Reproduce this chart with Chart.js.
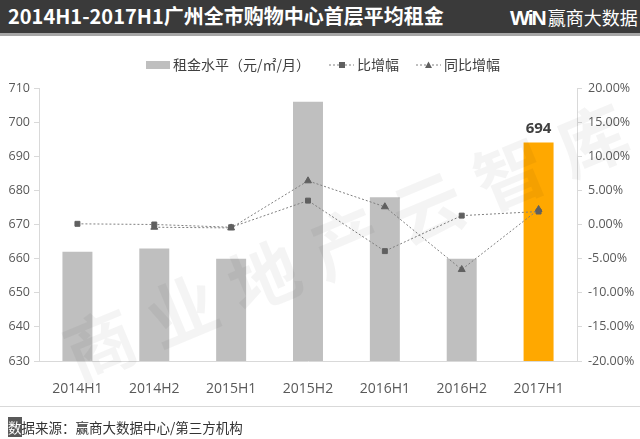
<!DOCTYPE html>
<html>
<head>
<meta charset="utf-8">
<script src="https://cdn.jsdelivr.net/npm/chart.js@4.4.1/dist/chart.umd.min.js"></script>
<style>
  html,body{margin:0;padding:0;background:#fff;}
  #wrap{position:relative;width:640px;height:439px;overflow:hidden;font-family:"Noto Sans CJK SC","Noto Sans",sans-serif;}
  #c{position:absolute;left:0;top:0;}
  #titlebar{position:absolute;left:0;top:0;width:640px;height:33px;background:#3a3a3a;border-bottom:3px solid #a6a6a6;}
  #title{position:absolute;left:8px;top:3px;color:#fff;font-weight:bold;font-size:20px;line-height:26px;white-space:nowrap;}
  #logo{position:absolute;left:510px;top:4px;color:#fff;white-space:nowrap;line-height:26px;}
  #logo .w{font-family:"Liberation Sans",sans-serif;font-weight:900;font-size:21px;letter-spacing:-2px;}
  #logo .t{font-size:18px;margin-left:3px;}
  .lg{position:absolute;top:55px;font-size:14px;line-height:18px;color:#404040;white-space:nowrap;}
  #footline{position:absolute;left:0;top:406px;width:640px;height:1px;background:#d9d9d9;}
  #foot{position:absolute;left:8px;top:418px;font-size:13.5px;line-height:18px;color:#333;white-space:nowrap;}
  #foot .b{background:#595959;color:#fff;}
</style>
</head>
<body>
<div id="wrap">
  <canvas id="c" width="640" height="439"></canvas>
  <div id="titlebar">
    <div id="title">2014H1-2017H1广州全市购物中心首层平均租金</div>
    <div id="logo"><span class="w">WiN</span><span class="t">赢商大数据</span></div>
  </div>
  <div id="legend"></div>
  <div id="footline"></div>
  <div id="foot"><span class="b">数</span>据来源：赢商大数据中心/第三方机构</div>
</div>
<script>
const categories = ["2014H1","2014H2","2015H1","2015H2","2016H1","2016H2","2017H1"];
const rentLabel = "租金水平（元/㎡/月）";
const rentValues = [662, 663, 660, 706, 678, 660, 694];
const momLabel = "比增幅";
const momValues = [0.1, 0.0, -0.4, 3.5, -3.9, 1.3, 1.9];
const yoyLabel = "同比增幅";
const yoyValues = [null, -0.4, -0.5, 6.4, 2.6, -6.6, 2.2];
const leftTicks = {min: 630, max: 710, step: 10};
const rightTicks = {min: -20, max: 20, step: 5};
const highlightIndex = 6;

const grayBar = '#bfbfbf';
const orangeBar = '#ffa800';
const lineColor = '#808080';
const markerColor = '#606060';

// legend (HTML)
(function(){
  const lg = document.getElementById('legend');
  function add(left, html){ const d=document.createElement('div'); d.className='lg'; d.style.left=left+'px'; d.innerHTML=html; lg.appendChild(d); }
  add(146, '<span style="display:inline-block;width:24px;height:8px;background:'+grayBar+';vertical-align:middle;margin-right:3px;position:relative;top:-1px"></span>'+rentLabel);
  const sq = '<svg width="25" height="10" style="vertical-align:middle;margin-right:3px;position:relative;top:-1px"><line x1="0" y1="5" x2="25" y2="5" stroke="'+lineColor+'" stroke-width="1" stroke-dasharray="2,2"/><rect x="10" y="2" width="6" height="6" fill="'+markerColor+'"/></svg>';
  const tr = '<svg width="25" height="10" style="vertical-align:middle;margin-right:3px;position:relative;top:-1px"><line x1="0" y1="5" x2="25" y2="5" stroke="'+lineColor+'" stroke-width="1" stroke-dasharray="2,2"/><polygon points="12.5,1.5 16,8 9,8" fill="'+markerColor+'"/></svg>';
  add(329, sq + momLabel);
  add(416, tr + yoyLabel);
})();

const valueLabelPlugin = {
  id: 'valueLabel',
  afterDatasetsDraw(chart){
    const ctx = chart.ctx;
    const meta = chart.getDatasetMeta(2);
    const el = meta.data[highlightIndex];
    ctx.save();
    ctx.font = 'bold 15px "Open Sans", "Noto Sans", sans-serif';
    ctx.fillStyle = '#404040';
    ctx.textAlign = 'center';
    ctx.textBaseline = 'bottom';
    ctx.fillText(String(rentValues[highlightIndex]), el.x, el.y - 6);
    ctx.restore();
  }
};

const watermarkPlugin = {
  id: 'watermark',
  afterDraw(chart){
    const ctx = chart.ctx;
    const chars = "商业地产云智库".split('');
    const x0 = 100, y0 = 345, x1 = 592, y1 = 140;
    const ang = Math.atan2(y1 - y0, x1 - x0);
    ctx.save();
    ctx.fillStyle = 'rgba(0,0,0,0.045)';
    ctx.font = 'bold 70px "Noto Sans CJK SC", sans-serif';
    ctx.textAlign = 'center';
    ctx.textBaseline = 'middle';
    chars.forEach((ch, i) => {
      const t = i / (chars.length - 1);
      ctx.save();
      ctx.translate(x0 + (x1 - x0) * t, y0 + (y1 - y0) * t);
      ctx.rotate(ang);
      ctx.fillText(ch, 0, 0);
      ctx.restore();
    });
    ctx.restore();
  }
};

new Chart(document.getElementById('c'), {
  data: {
    labels: categories,
    datasets: [
      {
        type: 'line', label: momLabel, data: momValues, yAxisID: 'y2',
        borderColor: lineColor, borderWidth: 1, borderDash: [2, 2],
        pointStyle: 'rect', pointRadius: 3.5, pointBackgroundColor: markerColor, pointBorderColor: markerColor,
        fill: false, tension: 0, order: 1
      },
      {
        type: 'line', label: yoyLabel, data: yoyValues, yAxisID: 'y2',
        borderColor: lineColor, borderWidth: 1, borderDash: [2, 2],
        pointStyle: 'triangle', pointRadius: 4, pointBackgroundColor: markerColor, pointBorderColor: markerColor,
        fill: false, tension: 0, spanGaps: false, order: 2
      },
      {
        type: 'bar', label: rentLabel, data: rentValues, yAxisID: 'y',
        backgroundColor: rentValues.map((v, i) => i === highlightIndex ? orangeBar : grayBar),
        barPercentage: 0.39, categoryPercentage: 1, order: 3
      }
    ]
  },
  options: {
    responsive: false,
    animation: false,
    layout: {padding: {top: 88, left: 0, right: 0, bottom: 0}},
    plugins: {legend: {display: false}, tooltip: {enabled: false}, title: {display: false}},
    scales: {
      x: {
        grid: {display: false},
        border: {display: true, color: '#d9d9d9', width: 1},
        ticks: {color: '#595959', font: {family: '"Open Sans", "Noto Sans", sans-serif', size: 14}, padding: 12, maxRotation: 0},
        afterFit(s){ s.height = 78; }
      },
      y: {
        position: 'left', min: leftTicks.min, max: leftTicks.max,
        grid: {drawOnChartArea: false, drawTicks: true, tickLength: 5, color: '#d9d9d9'},
        border: {display: true, color: '#d9d9d9', width: 1},
        ticks: {stepSize: leftTicks.step, color: '#595959', padding: 4, font: {family: '"Open Sans", "Noto Sans", sans-serif', size: 12.5}},
        afterFit(s){ s.width = 39; }
      },
      y2: {
        position: 'right', min: rightTicks.min, max: rightTicks.max,
        grid: {drawOnChartArea: false, drawTicks: true, tickLength: 5, color: '#d9d9d9'},
        border: {display: true, color: '#d9d9d9', width: 1},
        ticks: {stepSize: rightTicks.step, color: '#595959', padding: 6, font: {family: '"Open Sans", "Noto Sans", sans-serif', size: 12.5},
          callback: v => Number(v).toFixed(2) + '%'},
        afterFit(s){ s.width = 63; }
      }
    }
  },
  plugins: [valueLabelPlugin, watermarkPlugin]
});
</script>
</body>
</html>
